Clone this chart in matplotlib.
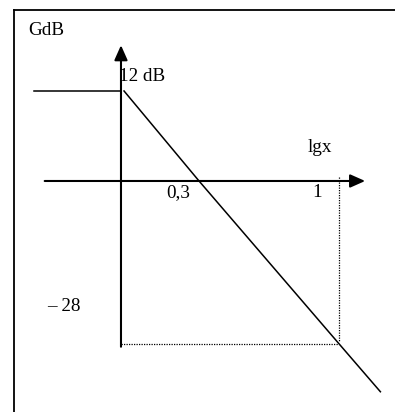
import matplotlib
matplotlib.use('Agg')
import matplotlib.pyplot as plt

# Diagramme de Bode asymptotique (croquis, pas a l'echelle)
# unites du croquis : lgx en abscisse, GdB en ordonnee

# asymptote horizontale (12 dB) a gauche de l'axe
asym_x = [-0.40, 0.0]
asym_y = [12, 12]

# asymptote de pente -40 dB/dec
pente_x = [0.014, 0.358, 1.0, 1.19]
pente_y = [12, 0, -21.7, -28.1]

# pointilles vers le point lgx = 1
pointil_v_x = [1.0, 1.0]
pointil_v_y = [0.5, -21.3]
pointil_h_x = [0.0, 1.0]
pointil_h_y = [-21.7, -21.7]

# axes dessines
axe_x = [-0.35, 1.12]   # axe horizontal
axe_y = [-22.1, 18.1]   # axe vertical

# textes
etiquettes = ['GdB', '12 dB', 'lgx', '0,3', '1', '\u2013 28']
etiq_x = [-0.425, -0.007, 0.856, 0.209, 0.878, -0.337]
etiq_y = [20.1, 13.9, 4.5, -1.5, -1.5, -16.8]

fig = plt.figure(figsize=(3.95, 4.12), dpi=100)
ax = fig.add_axes([0, 0, 1, 1])
ax.set_xlim(-0.555, 1.257)
ax.set_ylim(-30.8, 24.13)
ax.axis('off')

# cadre (haut et gauche seulement visibles)
ax.plot([0.0354, 1.0], [0.9757, 0.9757], color='black', lw=1.3, transform=ax.transAxes, clip_on=False)
ax.plot([0.0354, 0.0354], [0.0, 0.9757], color='black', lw=1.3, transform=ax.transAxes, clip_on=False)

fleche = dict(arrowstyle='-|>,head_length=0.45,head_width=0.2', mutation_scale=20,
              lw=1.5, color='black', shrinkA=0, shrinkB=0)
ax.annotate('', xy=(axe_x[1], 0), xytext=(axe_x[0], 0), arrowprops=fleche)
ax.annotate('', xy=(0, axe_y[1]), xytext=(0, axe_y[0]), arrowprops=fleche)

ax.plot(asym_x, asym_y, color='black', lw=1.1)
ax.plot(pente_x, pente_y, color='black', lw=1.1)
ax.plot(pointil_v_x, pointil_v_y, color='black', lw=0.9, linestyle=(0, (1, 1)))
ax.plot(pointil_h_x, pointil_h_y, color='black', lw=0.9, linestyle=(0, (1, 1)))

for t, x, y in zip(etiquettes, etiq_x, etiq_y):
    ax.text(x, y, t, fontsize=13.8, family='Liberation Serif', ha='left', va='center')

fig.savefig('out.png', dpi=100)
